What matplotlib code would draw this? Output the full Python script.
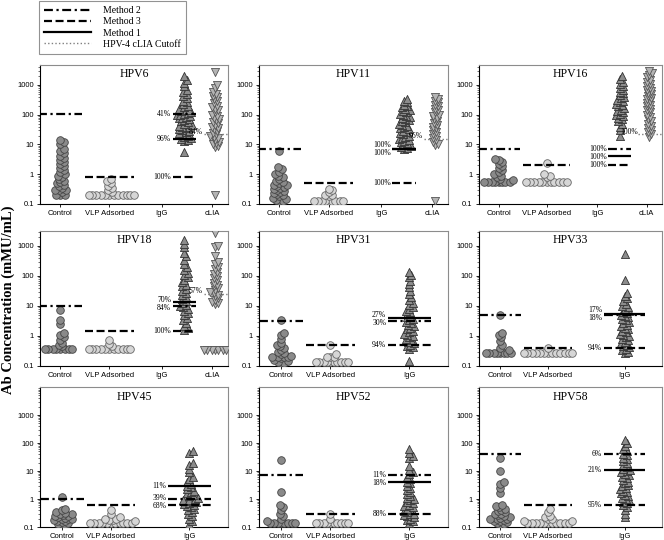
import matplotlib
matplotlib.use('Agg')
import matplotlib.pyplot as plt
from matplotlib.lines import Line2D
from matplotlib.ticker import FixedLocator, FixedFormatter, LogLocator, NullFormatter

# ---------------- data ----------------
panel_names = ['HPV6', 'HPV11', 'HPV16', 'HPV18', 'HPV31', 'HPV33', 'HPV45', 'HPV52', 'HPV58']
cat4_labels = ['Control', 'VLP Adsorbed', 'IgG', 'cLIA']
cat3_labels = ['Control', 'VLP Adsorbed', 'IgG']
ytick_values = [0.1, 1, 10, 100, 1000]
ytick_labels = ['0.1', '1', '10', '100', '1000']

hpv6_control = [14, 12, 10, 7, 6, 5, 4.2, 3.6, 3, 2.6, 2.2, 1.9, 1.6, 1.4, 1.2, 1.0, 0.9, 0.8, 0.7,
                0.6, 0.55, 0.5, 0.45, 0.4, 0.35, 0.3, 0.3, 0.3, 0.25, 0.2, 0.2, 0.2]
hpv6_vlp = [0.7, 0.6, 0.5, 0.4, 0.35, 0.3, 0.25] + [0.2] * 12
hpv6_igg = [2000, 1500, 1200, 900, 700, 600, 500, 420, 360, 300, 260, 230, 200, 180, 160, 150, 140,
            130, 120, 115, 110, 100, 95, 90, 85, 80, 75, 70, 65, 60, 55, 50, 45, 42, 40, 38, 35, 32,
            30, 28, 26, 24, 22, 20, 18, 16, 15, 14, 13, 5.6]
hpv6_clia = [2800, 1000, 800, 600, 500, 420, 380, 330, 280, 240, 200, 180, 160, 140, 120, 100, 90,
             80, 72, 65, 58, 52, 46, 40, 36, 32, 28, 25, 22, 20, 18, 16, 14, 12, 11, 10, 9, 8, 0.2]
hpv6_cutoffs = [110, 15, 0.78]          # Method 2, Method 1, Method 3
hpv6_pcts = ['41%', '96%', '100%']
hpv6_clia_cut, hpv6_clia_pct = 22, '84%'

hpv11_control = [6, 1.8, 1.5, 1.2, 1.0, 0.9, 0.8, 0.7, 0.6, 0.55, 0.5, 0.45, 0.42, 0.4, 0.38, 0.35,
                 0.32, 0.3, 0.28, 0.26, 0.24, 0.22, 0.2, 0.18, 0.16, 0.15, 0.14, 0.13, 0.13]
hpv11_vlp = [0.33, 0.3, 0.25, 0.2, 0.2, 0.18] + [0.13] * 9
hpv11_igg = [350, 300, 260, 220, 200, 180, 160, 140, 130, 120, 110, 100, 92, 85, 78, 72, 66, 60, 55,
             50, 46, 42, 38, 35, 32, 29, 26, 24, 22, 20, 18, 16, 15, 14, 13, 12, 11, 10, 9, 8, 7.5, 7]
hpv11_clia = [400, 350, 300, 260, 220, 190, 160, 140, 120, 100, 90, 80, 70, 60, 52, 45, 40, 35, 30,
              26, 22, 19, 16, 14, 12, 10, 9.5, 0.13]
hpv11_cutoffs = [7, 7, 0.5]
hpv11_pcts = ['100%', '100%', '100%']
hpv11_clia_cut, hpv11_clia_pct = 15, '96%'

hpv16_control = [3.3, 3, 2.6, 2.2, 1.9, 1.6, 1.4, 1.2, 1.0, 0.9, 0.8, 0.7, 0.65] + [0.55] * 8
hpv16_vlp = [2.4, 1.0, 0.9, 0.8] + [0.55] * 11
hpv16_igg = [2000, 1600, 1300, 1100, 950, 800, 700, 600, 520, 460, 400, 360, 320, 290, 260, 230, 210,
             190, 170, 150, 135, 120, 110, 100, 90, 80, 70, 60, 50, 40, 30, 20]
hpv16_clia = [3000, 2600, 2200, 1800, 1500, 1300, 1100, 950, 800, 700, 620, 550, 480, 420, 370, 330,
              290, 250, 220, 190, 160, 140, 120, 100, 85, 70, 60, 50, 42, 35, 30, 26, 22, 18]
hpv16_cutoffs = [7, 4, 2]
hpv16_pcts = ['100%', '100%', '100%']
hpv16_clia_cut, hpv16_clia_pct = 22, '100%'

hpv18_control = [7.4, 3.5, 2.5, 1.3, 1.1, 0.9, 0.75, 0.6, 0.5, 0.45] + [0.36] * 8
hpv18_vlp = [0.75, 0.55, 0.45] + [0.36] * 11
hpv18_igg = [1600, 1200, 900, 600, 450, 350, 250, 200, 160, 130, 110, 90, 75, 62, 52, 45, 38, 32, 28,
             24, 20, 17, 15, 13, 11, 10, 9, 8, 7, 6, 5, 4, 3.5, 2.8, 2.2, 1.8, 1.6]
hpv18_clia = [2700, 1000, 900, 450, 300, 250, 200, 170, 140, 120, 100, 85, 72, 60, 52, 45, 40, 35, 30,
              27, 24, 21, 18, 16, 14, 13, 12] + [0.33] * 7
hpv18_cutoffs = [10, 14, 1.5]
hpv18_pcts = ['84%', '70%', '100%']
hpv18_clia_cut, hpv18_clia_pct = 25, '57%'

hpv31_control = [3.4, 1.3, 1.1, 0.8, 0.6, 0.5, 0.45, 0.4, 0.35, 0.3, 0.28, 0.25, 0.22, 0.2, 0.2, 0.2,
                 0.2, 0.18, 0.16, 0.15, 0.14, 0.13, 0.13]
hpv31_vlp = [0.5, 0.25, 0.2, 0.2, 0.2] + [0.14] * 10
hpv31_igg = [140, 110, 90, 70, 55, 42, 32, 25, 20, 16, 13, 11, 9.5, 8, 7, 6.2, 5.5, 4.8, 4.2, 3.8, 3.4,
             3.0, 2.7, 2.4, 2.1, 1.9, 1.7, 1.5, 1.35, 1.2, 1.1, 1.0, 0.9, 0.8, 0.72, 0.65, 0.58, 0.52,
             0.47, 0.42, 0.38, 0.15]
hpv31_cutoffs = [3.2, 4, 0.5]
hpv31_pcts = ['30%', '27%', '94%']

hpv33_control = [5, 1.3, 1.1, 0.9, 0.7, 0.5, 0.4, 0.35] + [0.28] * 8
hpv33_vlp = [0.4] + [0.28] * 13
hpv33_igg = [550, 74, 27, 22, 18, 15, 12, 10, 9, 8, 7, 6.3, 5.7, 5.2, 4.7, 4.2, 3.8, 3.4, 3.0, 2.7, 2.4,
             2.1, 1.9, 1.7, 1.5, 1.35, 1.2, 1.1, 1.0, 0.9, 0.8, 0.72, 0.65, 0.58, 0.52, 0.47, 0.42,
             0.38, 0.34, 0.3, 0.28]
hpv33_cutoffs = [5.0, 5.5, 0.4]
hpv33_pcts = ['18%', '17%', '94%']

hpv45_control = [1.2, 0.45, 0.4, 0.35, 0.32, 0.3, 0.28, 0.26, 0.25, 0.24, 0.22, 0.21, 0.2, 0.2, 0.19,
                 0.18, 0.17, 0.16, 0.15, 0.14, 0.13, 0.12, 0.11]
hpv45_vlp = [0.4, 0.3, 0.22, 0.2, 0.2, 0.18, 0.18, 0.17] + [0.14] * 11
hpv45_igg = [50, 45, 20, 17, 12, 9, 6, 5, 4, 3.5, 3, 2.6, 2.2, 2.0, 1.8, 1.6, 1.4, 1.25, 1.1, 1.0, 0.95,
             0.9, 0.85, 0.8, 0.75, 0.7, 0.65, 0.6, 0.55, 0.5, 0.45, 0.4, 0.35, 0.3, 0.25, 0.2, 0.16, 0.13]
hpv45_cutoffs = [1.0, 3.0, 0.6]
hpv45_pcts = ['39%', '11%', '68%']

hpv52_control = [25, 1.8, 0.6, 0.5, 0.4, 0.3, 0.25, 0.2, 0.17] + [0.14] * 8
hpv52_vlp = [0.3, 0.2] + [0.14] * 10
hpv52_igg = [60, 45, 35, 30, 15, 11, 9, 7.5, 6, 5, 4.2, 3.6, 3, 2.5, 2.1, 1.8, 1.5, 1.3, 1.1, 1.0, 0.9,
             0.8, 0.7, 0.62, 0.55, 0.5, 0.45, 0.4, 0.36, 0.33, 0.3, 0.28, 0.26, 0.24, 0.22, 0.2, 0.18,
             0.16, 0.14]
hpv52_cutoffs = [7, 4, 0.3]
hpv52_pcts = ['11%', '18%', '88%']

hpv58_control = [28, 10, 4, 3.3, 2.5, 1.7, 0.6, 0.55, 0.5, 0.45, 0.4, 0.36, 0.33, 0.3, 0.28, 0.26, 0.24,
                 0.22, 0.21, 0.2, 0.2, 0.19, 0.18, 0.17, 0.16, 0.15, 0.14, 0.13, 0.12]
hpv58_vlp = [0.45, 0.35, 0.25, 0.22, 0.2, 0.2, 0.17, 0.17] + [0.14] * 11
hpv58_igg = [130, 100, 80, 60, 50, 42, 36, 30, 26, 22, 19, 16, 14, 12, 11, 10, 9, 8, 7, 6.2, 5.5, 4.8,
             4.2, 3.7, 3.2, 2.8, 2.5, 2.2, 2.0, 1.8, 1.6, 1.4, 1.25, 1.1, 1.0, 0.9, 0.8, 0.7, 0.6, 0.5,
             0.4, 0.3, 0.22]
hpv58_cutoffs = [40, 11, 0.6]
hpv58_pcts = ['6%', '21%', '95%']

legend_labels = ['Method 2', 'Method 3', 'Method 1', 'HPV-4 cLIA Cutoff']

# ---------------- layout / style ----------------
SERIF = ['Liberation Serif', 'DejaVu Serif']
SANS = ['Liberation Sans', 'DejaVu Sans']
W, H = 664, 540
col_left = [40, 259, 479]
col_width = [188, 189, 183]
row_top = [65, 231, 387]
row_bot = [204, 366, 527]
row_ymax = [4700, 3160, 10000]

LS_M2 = (0, (4, 1.6, 1, 1.6))
LS_M3 = (0, (3.6, 1.6))
LS_M1 = '-'
LW = 1.6

panels = [
    (hpv6_control, hpv6_vlp, hpv6_igg, hpv6_clia, hpv6_cutoffs, hpv6_pcts, hpv6_clia_cut, hpv6_clia_pct),
    (hpv11_control, hpv11_vlp, hpv11_igg, hpv11_clia, hpv11_cutoffs, hpv11_pcts, hpv11_clia_cut, hpv11_clia_pct),
    (hpv16_control, hpv16_vlp, hpv16_igg, hpv16_clia, hpv16_cutoffs, hpv16_pcts, hpv16_clia_cut, hpv16_clia_pct),
    (hpv18_control, hpv18_vlp, hpv18_igg, hpv18_clia, hpv18_cutoffs, hpv18_pcts, hpv18_clia_cut, hpv18_clia_pct),
    (hpv31_control, hpv31_vlp, hpv31_igg, None, hpv31_cutoffs, hpv31_pcts, None, None),
    (hpv33_control, hpv33_vlp, hpv33_igg, None, hpv33_cutoffs, hpv33_pcts, None, None),
    (hpv45_control, hpv45_vlp, hpv45_igg, None, hpv45_cutoffs, hpv45_pcts, None, None),
    (hpv52_control, hpv52_vlp, hpv52_igg, None, hpv52_cutoffs, hpv52_pcts, None, None),
    (hpv58_control, hpv58_vlp, hpv58_igg, None, hpv58_cutoffs, hpv58_pcts, None, None),
]

fig = plt.figure(figsize=(W / 100, H / 100), dpi=100)


def swarm_x(ax, xc, vals, min_dist=3.3, step=1.1):
    trans = ax.transData
    inv = trans.inverted()
    xc_pix = trans.transform((xc, 1.0))[0]
    placed = []
    out = []
    for v in sorted(vals):
        y = trans.transform((xc, v))[1]
        k = 0
        while True:
            off = ((k + 1) // 2) * step * (1 if k % 2 else -1)
            x = xc_pix + off
            ok = True
            for px, py in placed:
                if (x - px) ** 2 + (y - py) ** 2 < min_dist ** 2:
                    ok = False
                    break
            if ok:
                break
            k += 1
        placed.append((x, y))
        out.append((inv.transform((x, y))[0], v))
    return [p[0] for p in out], [p[1] for p in out]


def hline(ax, xc, half, v, ls, color='black', lw=LW):
    ax.plot([xc - half, xc + half], [v, v], color=color, lw=lw, ls=ls,
            solid_capstyle='butt', dash_capstyle='butt', zorder=6)


for i, (name, pdata) in enumerate(zip(panel_names, panels)):
    r, c = divmod(i, 3)
    control, vlp, igg, clia, cutoffs, pcts, clia_cut, clia_pct = pdata
    ax = fig.add_axes([col_left[c] / W, 1 - row_bot[r] / H, col_width[c] / W,
                       (row_bot[r] - row_top[r]) / H])
    ax.set_yscale('log')
    ax.set_ylim(0.1, row_ymax[r])
    ax.set_xlim(0.6, 4.31)
    if clia is not None:
        xs = {'control': 1.0, 'vlp': 1.97, 'igg': 3.45, 'clia': 4.05}
        ticks = [1.0, 1.97, 3.0, 4.0]
        labels = cat4_labels
        ig_half = 0.23
    else:
        xs = {'control': 1.03, 'vlp': 2.0, 'igg': 3.55}
        ticks = [1.03, 2.0, 3.55]
        labels = cat3_labels
        ig_half = 0.42

    # markers
    x, y = swarm_x(ax, xs['control'], control)
    ax.scatter(x, y, s=30, marker='o', facecolor='#8a8a8a', edgecolor='#444444', linewidth=0.6, zorder=3)
    x, y = swarm_x(ax, xs['vlp'], vlp)
    ax.scatter(x, y, s=30, marker='o', facecolor='#d6d6d6', edgecolor='#666666', linewidth=0.6, zorder=3)
    x, y = swarm_x(ax, xs['igg'], igg)
    ax.scatter(x, y, s=34, marker='^', facecolor='#8c8c8c', edgecolor='#333333', linewidth=0.6, zorder=3)
    if clia is not None:
        x, y = swarm_x(ax, xs['clia'], clia)
        ax.scatter(x, y, s=34, marker='v', facecolor='#b4b4b4', edgecolor='#555555', linewidth=0.6, zorder=3)

    m2, m1, m3 = cutoffs
    hline(ax, xs['control'], 0.43, m2, LS_M2)
    hline(ax, xs['vlp'], 0.48, m3, LS_M3)
    hline(ax, xs['igg'], ig_half, m2, LS_M2)
    hline(ax, xs['igg'], ig_half, m1, LS_M1)
    hline(ax, xs['igg'], ig_half, m3, LS_M3)

    # percentage labels (push apart if overlapping)
    lab = []
    for v, t in zip(cutoffs, pcts):
        lab.append([ax.transData.transform((1, v))[1], v, t, xs['igg'] - ig_half])
    lab.sort(key=lambda a: a[0])
    ypix = [a[0] for a in lab]
    for _ in range(20):
        for j in range(1, len(ypix)):
            if ypix[j] - ypix[j - 1] < 8:
                d = (8 - (ypix[j] - ypix[j - 1])) / 2
                ypix[j] += d
                ypix[j - 1] -= d
    for a, yp in zip(lab, ypix):
        dy = (yp - a[0]) * 0.72
        ax.annotate(a[2], xy=(a[3], a[1]), xytext=(-1.2, dy), textcoords='offset points',
                    ha='right', va='center', fontsize=5.5, family=SERIF, zorder=7)

    if clia is not None:
        hline(ax, xs['clia'] + 0.03, 0.25, clia_cut, (0, (1, 1.6)), color='#808080', lw=1.0)
        ax.annotate(clia_pct, xy=(xs['clia'] - 0.22, clia_cut), xytext=(-0.5, 2), textcoords='offset points',
                    ha='right', va='center', fontsize=5.5, family=SERIF, zorder=7)

    # title
    ax.text(0.5, 0.975, name, transform=ax.transAxes, ha='center', va='top',
            fontsize=8.5, family=SERIF)

    # axes styling
    ax.yaxis.set_major_locator(FixedLocator(ytick_values))
    ax.yaxis.set_major_formatter(FixedFormatter(ytick_labels))
    ax.yaxis.set_minor_locator(LogLocator(base=10, subs=range(2, 10), numticks=20))
    ax.yaxis.set_minor_formatter(NullFormatter())
    ax.set_xticks(ticks)
    ax.set_xticklabels(labels)
    ax.tick_params(axis='both', which='major', labelsize=5.5, length=2.5, width=0.6, pad=2, direction='out')
    ax.tick_params(axis='y', which='minor', length=1.5, width=0.4)
    for lbl in ax.get_xticklabels() + ax.get_yticklabels():
        lbl.set_family(SANS)
    ax.spines['left'].set_color('black')
    ax.spines['bottom'].set_color('black')
    ax.spines['top'].set_color('#8c8c8c')
    ax.spines['right'].set_color('#8c8c8c')
    for s in ax.spines.values():
        s.set_linewidth(0.8)

# y label
fig.text(0.012, 1 - 300 / H, 'Ab Concentration (mMU/mL)', rotation=90, ha='center', va='center',
         fontsize=10.5, fontweight='bold', family=SERIF)

# legend
handles = [Line2D([], [], color='black', lw=LW, ls=LS_M2),
           Line2D([], [], color='black', lw=LW, ls=LS_M3),
           Line2D([], [], color='black', lw=LW, ls=LS_M1),
           Line2D([], [], color='#808080', lw=1.0, ls=(0, (1, 1.6)))]
leg = fig.legend(handles, legend_labels, loc='upper left', bbox_to_anchor=(39 / W, 1 - 1 / H),
                 bbox_transform=fig.transFigure, frameon=True, fancybox=False, borderaxespad=0,
                 handlelength=4.8, handletextpad=1.2, labelspacing=0.22, borderpad=0.55,
                 prop={'family': SERIF, 'size': 7})
leg.get_frame().set_edgecolor('#777777')
leg.get_frame().set_linewidth(0.8)

fig.savefig('out.png', dpi=100)
